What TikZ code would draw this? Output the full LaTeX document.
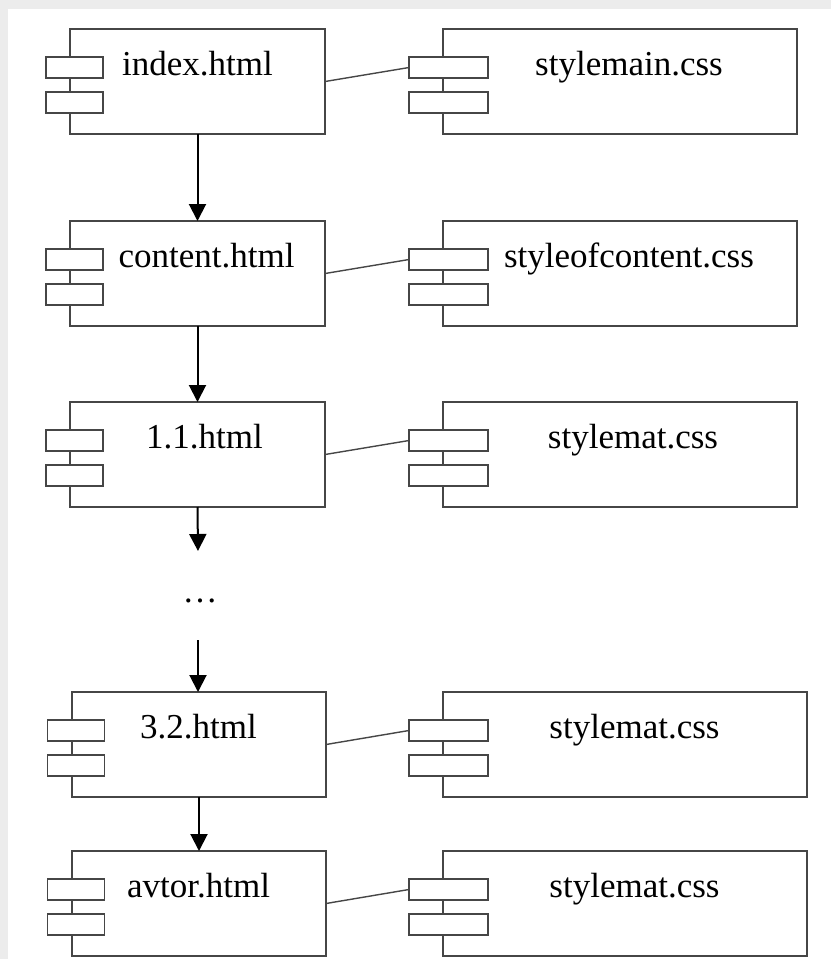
\documentclass[tikz,border=0pt]{standalone}
\usepackage{fontspec}
\setmainfont{Liberation Serif}
\usetikzlibrary{arrows.meta}
\definecolor{bggray}{RGB}{236,236,236}
\definecolor{edge}{RGB}{70,70,70}
\tikzset{
  box/.style={draw=edge, line width=1.9pt, fill=white, rectangle, inner sep=0pt, outer sep=0pt},
  port/.style={draw=edge, line width=1.7pt, fill=white, rectangle, inner sep=0pt, outer sep=0pt, minimum height=21pt},
  lbl/.style={anchor=base, inner sep=0pt, font=\fontsize{35}{40}\selectfont, text=black},
  conn/.style={draw=edge, line width=1.4pt},
  arr/.style={draw=black, line width=2pt, -{Triangle[length=17pt,width=17pt]}}
}
% #1 name, #2 left, #3 top, #4 right, #5 bottom, #6 port centre x, #7 port width
\newcommand\mycomp[7]{%
  \node[box, minimum width={(#4-#2)*1pt}, minimum height={(#5-#3)*1pt}] (#1) at ({(#2+#4)/2},{(#3+#5)/2}) {};
  \node[port, minimum width={#7*1pt}] (#1-p1) at (#6,{#3+38.5}) {};
  \node[port, minimum width={#7*1pt}] (#1-p2) at (#6,{#3+73.5}) {};
}
\begin{document}
\begin{tikzpicture}[x=1pt,y=-1pt]
\fill[bggray] (0,0) rectangle (831,959);
\fill[white] (8,9) rectangle (831,959);
\useasboundingbox (0,0) rectangle (831,959);

% left components
\mycomp{index}{70}{29}{325}{134}{74.5}{57}
\mycomp{content}{70}{221}{325}{326}{74.5}{57}
\mycomp{p11}{70}{402}{325}{507}{74.5}{57}
\mycomp{p32}{72}{692}{326}{797}{76}{57}
\mycomp{avtor}{72}{851}{326}{956}{76}{57}
% right components
\mycomp{cssmain}{443}{29}{797}{134}{448.5}{79}
\mycomp{csscont}{443}{221}{797}{326}{448.5}{79}
\mycomp{cssmat}{443}{402}{797}{507}{448.5}{79}
\mycomp{cssmatb}{443}{692}{807}{797}{448.5}{79}
\mycomp{cssmatc}{443}{851}{807}{956}{448.5}{79}

% labels
\node[lbl] (t-index) at (197.5,75.5) {index.html};
\node[lbl] (t-content) at (206.5,267.5) {content.html};
\node[lbl] (t-p11) at (204.5,448.5) {1.1.html};
\node[lbl] (t-p32) at (198.5,738) {3.2.html};
\node[lbl] (t-avtor) at (198.5,897) {avtor.html};
\node[lbl] (t-cssmain) at (629,75.5) {stylemain.css};
\node[lbl] (t-csscont) at (629,267.5) {styleofcontent.css};
\node[lbl] (t-cssmat) at (633,448.5) {stylemat.css};
\node[lbl] (t-cssmatb) at (634.5,738) {stylemat.css};
\node[lbl] (t-cssmatc) at (634.5,897) {stylemat.css};

% dots
\node[lbl] (dots) at (200,602) {\dots};
\coordinate (d1) at (198,551);
\coordinate (d2) at (198,640);

% connectors
\draw[conn] (index.east) -- (cssmain-p1.west);
\draw[conn] (content.east) -- (csscont-p1.west);
\draw[conn] (p11.east) -- (cssmat-p1.west);
\draw[conn] (p32.east) -- (cssmatb-p1.west);
\draw[conn] (avtor.east) -- (cssmatc-p1.west);

% arrows
\draw[arr] (index.south) -- (content.north);
\draw[arr] (content.south) -- (p11.north);
\draw[arr] (p11.south) -- (d1);
\draw[arr] (d2) -- (d2 |- p32.north);
\draw[arr] (p32.south) -- (avtor.north);
\end{tikzpicture}
\end{document}
